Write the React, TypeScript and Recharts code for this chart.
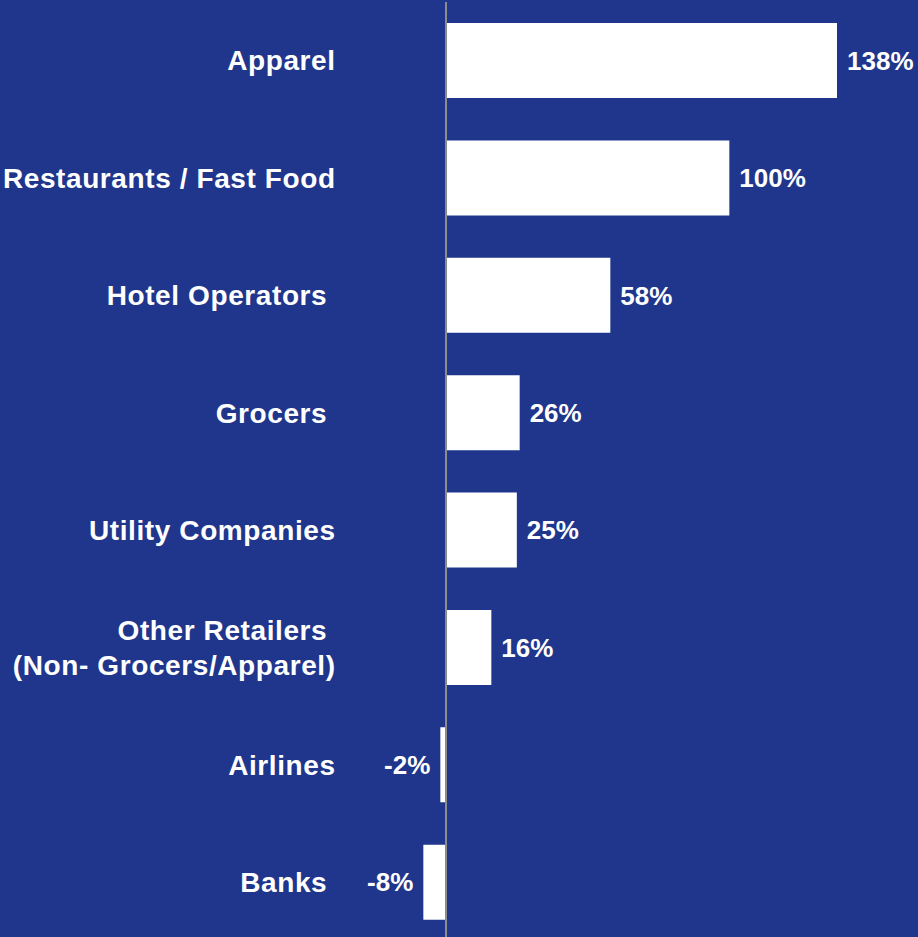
import { BarChart, Bar, XAxis, YAxis, ReferenceLine, LabelList } from "recharts";

const categories = [
    "Apparel",
    "Restaurants / Fast Food",
    "Hotel Operators ",
    "Grocers ",
    "Utility Companies",
    "Other Retailers \n(Non- Grocers/Apparel)",
    "Airlines",
    "Banks ",
];
const growth = [138, 100, 58, 26, 25, 16, -2, -8];

const data = categories.map((name, i) => ({ name, value: growth[i] }));

const BG = "#1F368C";
const FONT = "'Liberation Sans', Arial, sans-serif";

type TickProps = {
    x?: number;
    y?: number;
    payload?: { value: string };
};

const CategoryTick = ({ x = 0, y = 0, payload }: TickProps) => {
    const lines = (payload?.value ?? "").split("\n");
    const lineHeight = 35;
    const start = y - ((lines.length - 1) * lineHeight) / 2;
    return (
        <text
            x={x}
            y={start}
            textAnchor="end"
            fill="#fff"
            fontFamily={FONT}
            fontWeight="bold"
            fontSize={28}
            letterSpacing={0.6}
            style={{ whiteSpace: "pre" }}
        >
            {lines.map((line, i) => (
                <tspan key={i} x={x} y={start + i * lineHeight} dy="0.35em">
                    {line}
                </tspan>
            ))}
        </text>
    );
};

type LabelProps = {
    x?: number | string;
    y?: number | string;
    width?: number | string;
    height?: number | string;
    value?: number | string;
};

const ValueLabel = (props: LabelProps) => {
    const x = Number(props.x ?? 0);
    const y = Number(props.y ?? 0);
    const width = Number(props.width ?? 0);
    const height = Number(props.height ?? 0);
    const value = Number(props.value ?? 0);
    const left = Math.min(x, x + width);
    const right = Math.max(x, x + width);
    const neg = value < 0;
    return (
        <text
            x={neg ? left - 10 : right + 10}
            y={y + height / 2}
            dy="0.36em"
            textAnchor={neg ? "end" : "start"}
            fill="#fff"
            fontFamily={FONT}
            fontWeight="bold"
            fontSize={26}
        >
            {`${value}%`}
        </text>
    );
};

export default function App() {
    return (
        <div style={{ position: "absolute", left: 0, top: 0, width: 918, height: 937, overflow: "hidden", background: BG }}>
            <BarChart
                width={918}
                height={941}
                data={data}
                layout="vertical"
                margin={{ top: 2, right: 47, left: 0, bottom: 0 }}
                barSize={75}
            >
                <XAxis type="number" domain={[-10, 150]} hide />
                <YAxis
                    type="category"
                    dataKey="name"
                    width={417.67}
                    axisLine={false}
                    tickLine={false}
                    tickSize={0}
                    tickMargin={82}
                    tick={<CategoryTick />}
                    interval={0}
                />
                <Bar dataKey="value" fill="#fff" isAnimationActive={false}>
                    <LabelList dataKey="value" content={<ValueLabel />} />
                </Bar>
                <ReferenceLine x={0} stroke="#8C8C8C" strokeWidth={2} />
            </BarChart>
        </div>
    );
}
